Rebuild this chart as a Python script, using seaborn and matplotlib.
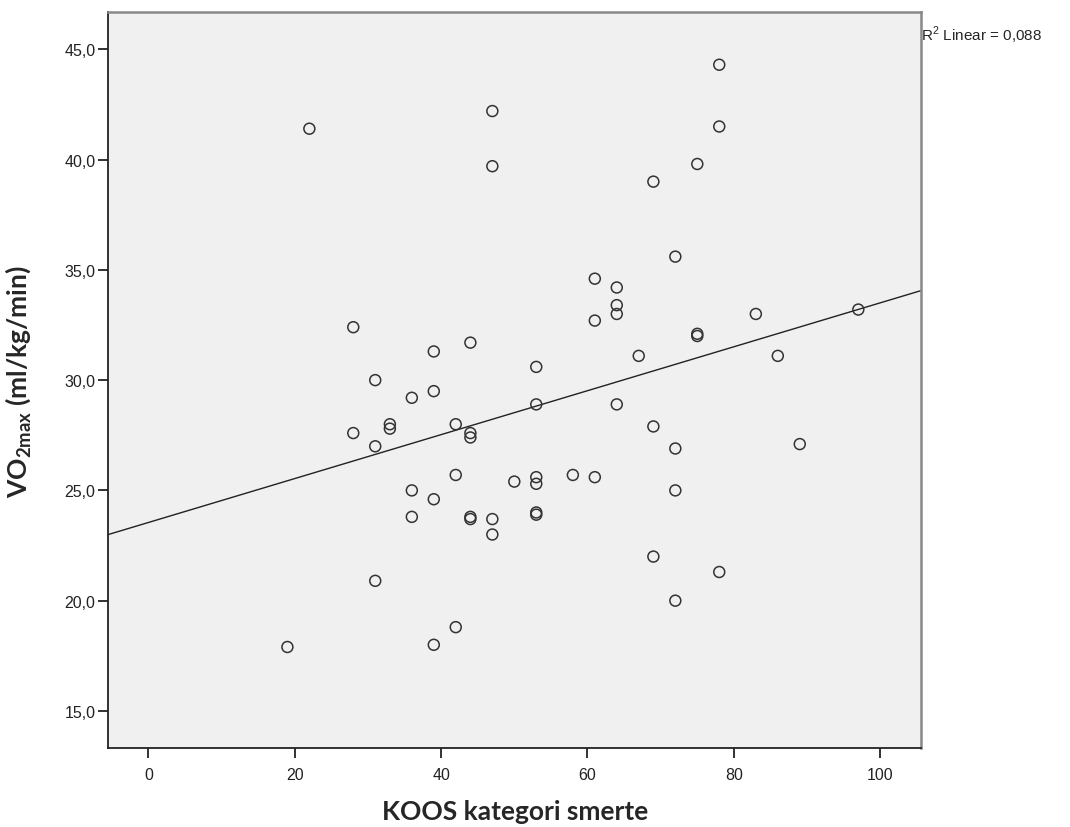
import matplotlib
matplotlib.use("Agg")
import matplotlib.pyplot as plt
import matplotlib.ticker as mticker
import seaborn as sns
import pandas as pd

# KOOS smerte vs VO2max
koos = [22, 47, 47, 28, 44, 39, 31, 39, 36, 33, 33, 28, 31, 42, 44, 44,
        42, 50, 36, 39, 36, 44, 44, 47, 47, 31, 42, 39, 19,
        78, 78, 75, 69, 72, 61, 64, 64, 64, 61, 83, 97, 75, 75, 67, 86,
        53, 53, 64, 69, 72, 89, 53, 53, 58, 61, 72, 53, 53, 69, 78, 72]
vo2 = [41.4, 42.2, 39.7, 32.4, 31.7, 31.3, 30.0, 29.5, 29.2, 28.0, 27.8, 27.6, 27.0, 28.0, 27.6, 27.4,
       25.7, 25.4, 25.0, 24.6, 23.8, 23.8, 23.7, 23.7, 23.0, 20.9, 18.8, 18.0, 17.9,
       44.3, 41.5, 39.8, 39.0, 35.6, 34.6, 34.2, 33.4, 33.0, 32.7, 33.0, 33.2, 32.1, 32.0, 31.1, 31.1,
       30.6, 28.9, 28.9, 27.9, 26.9, 27.1, 25.6, 25.3, 25.7, 25.6, 25.0, 24.0, 23.9, 22.0, 21.3, 20.0]
r2_text = "R$^2$ Linear = 0,088"
x_ticks = [0, 20, 40, 60, 80, 100]
y_ticks = [15, 20, 25, 30, 35, 40, 45]

df = pd.DataFrame({"koos": koos, "vo2": vo2})

sns.set_style("ticks", {"axes.facecolor": "#f0f0f0"})
plt.rcParams["font.family"] = ["Liberation Sans", "DejaVu Sans"]
plt.rcParams["mathtext.fontset"] = "custom"
plt.rcParams["mathtext.rm"] = "Liberation Sans"
plt.rcParams["mathtext.bf"] = "Lato:bold"

fig = plt.figure(figsize=(10.7, 8.28), dpi=100)
ax = fig.add_axes([0.101, 0.0954, 0.76, 0.8886])
ax.set_xlim(-5.5, 105.6)
ax.set_ylim(13.32, 46.68)

sns.scatterplot(data=df, x="koos", y="vo2", ax=ax, marker="o", s=62,
                facecolors="none", edgecolor="#333333", linewidth=1.1, zorder=3)
sns.regplot(data=df, x="koos", y="vo2", ax=ax, scatter=False, ci=None,
            truncate=False, line_kws={"color": "#222222", "linewidth": 1.0})

ax.set_xlim(-5.5, 105.6)
ax.set_ylim(13.32, 46.68)
ax.set_xticks(x_ticks)
ax.set_yticks(y_ticks)
ax.yaxis.set_major_formatter(mticker.FuncFormatter(lambda v, p: f"{v:.1f}".replace(".", ",")))
ax.tick_params(axis="both", labelsize=11.5, length=7, width=1.3, color="#222222",
               labelcolor="#222222")
ax.tick_params(axis="x", pad=7)
ax.tick_params(axis="y", pad=2)

for side in ["left", "bottom"]:
    ax.spines[side].set_color("#222222")
    ax.spines[side].set_linewidth(1.3)
for side in ["top", "right"]:
    ax.spines[side].set_visible(True)
    ax.spines[side].set_color("#888888")
    ax.spines[side].set_linewidth(1.8)

ax.set_xlabel("KOOS kategori smerte", fontsize=19, fontweight="bold",
              family=["Lato", "DejaVu Sans"], labelpad=12)
ax.set_ylabel(r"VO$_{\mathbf{2max}}$ (ml/kg/min)", fontsize=19, fontweight="bold",
              family=["Lato", "DejaVu Sans"])
ax.yaxis.set_label_coords(-0.092, 0.5)

ax.text(1.0, 0.985, r2_text, transform=ax.transAxes, ha="left", va="top", fontsize=11)

fig.savefig("out.png", dpi=100)
